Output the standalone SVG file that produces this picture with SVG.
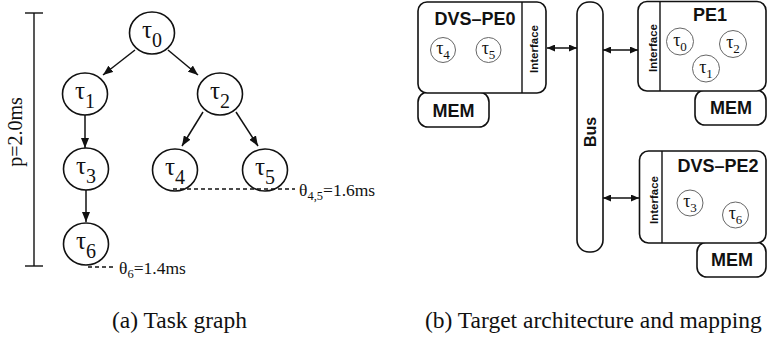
<svg xmlns="http://www.w3.org/2000/svg" width="768" height="340" viewBox="0 0 768 340">
  <defs>
    <style>
      .edge { stroke: #111; stroke-width: 1.5; fill: none; }
      .node ellipse { fill: #fff; stroke: #111; stroke-width: 1.6; }
      .serif { font-family: "Liberation Serif", "DejaVu Serif", serif; fill: #111; }
      .tau { font-size: 25px; }
      .sans { font-family: "Liberation Sans", Arial, sans-serif; font-weight: bold; fill: #111; }
      .box { fill: #fff; stroke: #111; stroke-width: 1.6; }
      .task circle { fill: #fff; stroke: #666; stroke-width: 1; }
      .task text { font-size: 18px; }
      .dash { stroke: #111; stroke-width: 1.3; stroke-dasharray: 4 3; fill: none; }
      .rule { stroke: #111; stroke-width: 1.4; fill: none; }
    </style>
    <marker id="head" markerUnits="userSpaceOnUse" markerWidth="11" markerHeight="8" refX="10" refY="4" orient="auto">
      <path d="M0,0 L10,4 L0,8 z" fill="#111"/>
    </marker>
    <marker id="bushead" markerUnits="userSpaceOnUse" markerWidth="9" markerHeight="7" refX="8" refY="3.5" orient="auto-start-reverse">
      <path d="M0,0 L8,3.5 L0,7 z" fill="#111"/>
    </marker>
  </defs>

  <!-- period bar -->
  <g id="period">
    <line class="rule" x1="34" y1="13" x2="34" y2="266"/>
    <line class="rule" x1="25" y1="13" x2="43" y2="13"/>
    <line class="rule" x1="25" y1="266" x2="43" y2="266"/>
    <text class="serif" font-size="20" text-anchor="middle" transform="translate(22,132) rotate(-90)">p=2.0ms</text>
  </g>

  <!-- task graph edges -->
  <g id="edges">
    <line class="edge" x1="135" y1="50" x2="103" y2="75" marker-end="url(#head)"/>
    <line class="edge" x1="168" y1="50" x2="198" y2="75" marker-end="url(#head)"/>
    <line class="edge" x1="85" y1="115" x2="85" y2="148" marker-end="url(#head)"/>
    <line class="edge" x1="86" y1="190" x2="86" y2="222" marker-end="url(#head)"/>
    <line class="edge" x1="203" y1="112" x2="182" y2="146" marker-end="url(#head)"/>
    <line class="edge" x1="236" y1="112" x2="258" y2="146" marker-end="url(#head)"/>
  </g>

  <!-- task graph nodes -->
  <g id="t0" class="node">
    <ellipse cx="152" cy="33" rx="22.5" ry="21"/>
    <text class="serif tau" x="152" y="38" text-anchor="middle">τ<tspan dy="9" font-size="20">0</tspan></text>
  </g>
  <g id="t1" class="node">
    <ellipse cx="85" cy="94" rx="22.5" ry="21"/>
    <text class="serif tau" x="85" y="99" text-anchor="middle">τ<tspan dy="9" font-size="20">1</tspan></text>
  </g>
  <g id="t2" class="node">
    <ellipse cx="220" cy="94" rx="22.5" ry="21"/>
    <text class="serif tau" x="220" y="99" text-anchor="middle">τ<tspan dy="9" font-size="20">2</tspan></text>
  </g>
  <g id="t3" class="node">
    <ellipse cx="86" cy="169" rx="22.5" ry="21"/>
    <text class="serif tau" x="86" y="174" text-anchor="middle">τ<tspan dy="9" font-size="20">3</tspan></text>
  </g>
  <g id="t4" class="node">
    <ellipse cx="175" cy="170" rx="22.5" ry="21"/>
    <text class="serif tau" x="175" y="175" text-anchor="middle">τ<tspan dy="9" font-size="20">4</tspan></text>
  </g>
  <g id="t5" class="node">
    <ellipse cx="265" cy="170" rx="22.5" ry="21"/>
    <text class="serif tau" x="265" y="175" text-anchor="middle">τ<tspan dy="9" font-size="20">5</tspan></text>
  </g>
  <g id="t6" class="node">
    <ellipse cx="86" cy="244" rx="22.5" ry="21"/>
    <text class="serif tau" x="86" y="249" text-anchor="middle">τ<tspan dy="9" font-size="20">6</tspan></text>
  </g>

  <!-- deadlines -->
  <g id="deadline45">
    <line class="dash" x1="173" y1="189" x2="295" y2="189"/>
    <text class="serif" font-size="17.5" x="299" y="196">θ<tspan dy="4" font-size="12.5">4,5</tspan><tspan dy="-4">=1.6ms</tspan></text>
  </g>
  <g id="deadline6">
    <line class="dash" x1="88" y1="267" x2="115" y2="267"/>
    <text class="serif" font-size="17.5" x="119" y="274">θ<tspan dy="4" font-size="12.5">6</tspan><tspan dy="-4">=1.4ms</tspan></text>
  </g>

  <!-- bus links -->
  <g id="links">
    <line class="edge" x1="547" y1="48" x2="577" y2="48" marker-start="url(#bushead)" marker-end="url(#bushead)"/>
    <line class="edge" x1="603" y1="50" x2="638" y2="50" marker-start="url(#bushead)" marker-end="url(#bushead)"/>
    <line class="edge" x1="603" y1="198" x2="639" y2="198" marker-start="url(#bushead)" marker-end="url(#bushead)"/>
  </g>

  <!-- bus -->
  <g id="bus">
    <rect class="box" x="577" y="2" width="26" height="250" rx="12"/>
    <text class="sans" font-size="16" text-anchor="middle" transform="translate(596,132) rotate(-90)">Bus</text>
  </g>

  <!-- DVS-PE0 -->
  <g id="pe0">
    <rect class="box" x="418" y="92" width="71" height="35" rx="10"/>
    <text class="sans" font-size="18" x="453.5" y="117" text-anchor="middle">MEM</text>
    <rect class="box" x="418" y="2" width="128" height="91" rx="9"/>
    <line class="rule" x1="522" y1="2" x2="522" y2="93"/>
    <text class="sans" font-size="18" x="475" y="25" text-anchor="middle">DVS–PE0</text>
    <text class="sans" font-size="11.5" text-anchor="middle" transform="translate(538,49) rotate(-90)">Interface</text>
    <g class="task">
      <circle cx="443" cy="50" r="12.5"/>
      <text class="serif" x="443" y="54" text-anchor="middle">τ<tspan dy="5" font-size="13">4</tspan></text>
      <circle cx="488.5" cy="50" r="12.5"/>
      <text class="serif" x="488.5" y="54" text-anchor="middle">τ<tspan dy="5" font-size="13">5</tspan></text>
    </g>
  </g>

  <!-- PE1 -->
  <g id="pe1">
    <rect class="box" x="695" y="90" width="71" height="35" rx="10"/>
    <text class="sans" font-size="18" x="731" y="114" text-anchor="middle">MEM</text>
    <rect class="box" x="638" y="1.5" width="128" height="89.5" rx="9"/>
    <line class="rule" x1="660" y1="1.5" x2="660" y2="91"/>
    <text class="sans" font-size="18" x="710" y="21" text-anchor="middle">PE1</text>
    <text class="sans" font-size="11.5" text-anchor="middle" transform="translate(657,48) rotate(-90)">Interface</text>
    <g class="task">
      <circle cx="680" cy="41.5" r="13.5"/>
      <text class="serif" x="680" y="45.5" text-anchor="middle">τ<tspan dy="5" font-size="13">0</tspan></text>
      <circle cx="733" cy="44" r="13.5"/>
      <text class="serif" x="733" y="48" text-anchor="middle">τ<tspan dy="5" font-size="13">2</tspan></text>
      <circle cx="706" cy="68.5" r="13.5"/>
      <text class="serif" x="706" y="72.5" text-anchor="middle">τ<tspan dy="5" font-size="13">1</tspan></text>
    </g>
  </g>

  <!-- DVS-PE2 -->
  <g id="pe2">
    <rect class="box" x="697" y="242" width="69" height="35" rx="10"/>
    <text class="sans" font-size="18" x="732" y="266" text-anchor="middle">MEM</text>
    <rect class="box" x="639.5" y="151" width="126.5" height="92" rx="9"/>
    <line class="rule" x1="662" y1="151" x2="662" y2="243"/>
    <text class="sans" font-size="18" x="718" y="172" text-anchor="middle">DVS–PE2</text>
    <text class="sans" font-size="11.5" text-anchor="middle" transform="translate(658,200) rotate(-90)">Interface</text>
    <g class="task">
      <circle cx="690" cy="203" r="13"/>
      <text class="serif" x="690" y="207" text-anchor="middle">τ<tspan dy="5" font-size="13">3</tspan></text>
      <circle cx="735.5" cy="215" r="13"/>
      <text class="serif" x="735.5" y="219" text-anchor="middle">τ<tspan dy="5" font-size="13">6</tspan></text>
    </g>
  </g>

  <!-- captions -->
  <text class="serif" font-size="23.5" x="112" y="328">(a) Task graph</text>
  <text class="serif" font-size="23.5" x="425" y="328">(b) Target architecture and mapping</text>
</svg>
